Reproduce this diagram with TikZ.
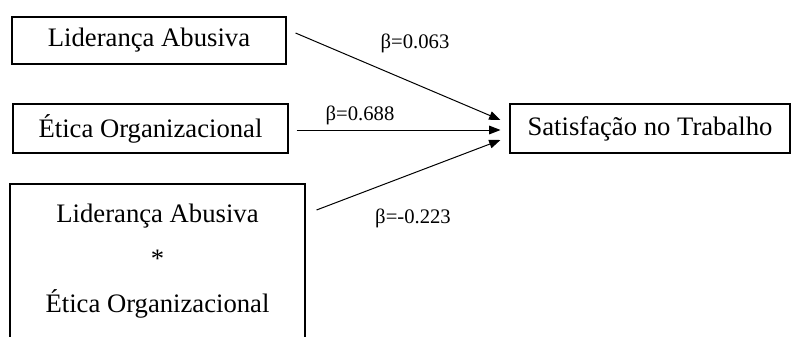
\documentclass[tikz,border=0pt]{standalone}
\usepackage{fontspec}
\setmainfont{Liberation Serif}
\usetikzlibrary{arrows.meta}

\tikzset{
  varbox/.style={draw, line width=0.8pt, inner sep=0pt, align=center,
    font=\fontsize{20}{34}\selectfont},
  coef/.style={font=\fontsize{15.5}{18}\selectfont, inner sep=0pt},
  path/.style={line width=0.75pt, -{Triangle[length=8.5pt,width=6.5pt]}}
}

\begin{document}
\begin{tikzpicture}[x=0.75pt,y=-0.75pt]

\useasboundingbox (0,0) rectangle (791,336);
\clip (0,0) rectangle (791,336);

\node [varbox, minimum width=205.5pt, minimum height=35.25pt] (lider) at (149,40.5) {Liderança Abusiva};
\node [varbox, minimum width=206.25pt, minimum height=36.75pt] (etica) at (150.5,128.5) {Ética Organizacional};
\node [varbox, minimum width=221.25pt, minimum height=115.5pt] (inter) at (157.5,261) {Liderança Abusiva\\*\\Ética Organizacional};
\node [varbox, minimum width=210pt, minimum height=36.75pt] (satisf) at (650,128.5) {Satisfação no Trabalho};

% arrow ends
\coordinate (s1) at ([shift={(9,-7.5)}]lider.east);
\coordinate (s2) at ([shift={(8,1.5)}]etica.east);
\coordinate (s3) at ([shift={(11,-51)}]inter.east);
\coordinate (t1) at ([shift={(-9,-8.5)}]satisf.west);
\coordinate (t2) at ([shift={(-9,1.5)}]satisf.west);
\coordinate (t3) at ([shift={(-9,11.5)}]satisf.west);

\draw [path] (s1) -- (t1);
\draw [path] (s2) -- (t2);
\draw [path] (s3) -- (t3);

\node [coef] (b1) at (415,43) {β=0.063};
\node [coef] (b2) at (360,115) {β=0.688};
\node [coef] (b3) at (413,218) {β=-0.223};

\end{tikzpicture}
\end{document}
